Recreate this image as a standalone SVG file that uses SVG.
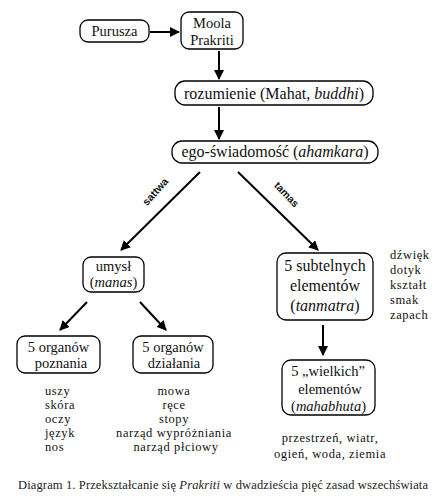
<svg xmlns="http://www.w3.org/2000/svg" width="440" height="500" viewBox="0 0 440 500">
<style>
.box{fill:#fff;stroke:#000;stroke-width:1.3}
.t{font-family:"Liberation Serif","DejaVu Serif",serif;font-size:16px;fill:#111;text-anchor:middle}
.t2{font-family:"Liberation Serif","DejaVu Serif",serif;font-size:14.5px;fill:#111;text-anchor:middle}
.s{font-family:"Liberation Serif","DejaVu Serif",serif;font-size:12.5px;letter-spacing:0.6px;fill:#111}
.lab{font-family:"Liberation Sans",Arial,sans-serif;font-size:10.5px;font-weight:bold;fill:#111;text-anchor:middle}
.cap{font-family:"Liberation Serif","DejaVu Serif",serif;font-size:12.5px;fill:#222}
.c{stroke:#000;stroke-width:2;fill:none;marker-end:url(#ah)}
</style>
<defs>
<marker id="ah" viewBox="0 0 10 10" refX="9" refY="5" markerWidth="5" markerHeight="5" orient="auto" markerUnits="strokeWidth">
<path d="M0,0 L10,5 L0,10 z" fill="#000"/>
</marker>
</defs>
<rect width="440" height="500" fill="#fff"/>
<g id="connectors">
<line class="c" x1="150" y1="32" x2="179" y2="32"/>
<line class="c" x1="219" y1="51" x2="219" y2="79"/>
<line class="c" x1="219" y1="107" x2="219" y2="139"/>
<line class="c" x1="200" y1="172" x2="121" y2="250"/>
<line class="c" x1="238" y1="172" x2="318" y2="250"/>
<line class="c" x1="87" y1="302" x2="60" y2="330"/>
<line class="c" x1="140" y1="302" x2="166" y2="330"/>
<line class="c" x1="323" y1="325" x2="323" y2="355"/>
<text class="lab" transform="translate(158,194) rotate(-48)">sattwa</text>
<text class="lab" transform="translate(284,197) rotate(46)">tamas</text>
</g>
<g id="purusza">
<rect class="box" x="80" y="20" width="69" height="22" rx="8"/>
<text class="t2" x="114.5" y="36" font-size="15.5">Purusza</text>
</g>
<g id="moola">
<rect class="box" x="181" y="12" width="62" height="37" rx="8"/>
<text class="t2" x="212" y="28">Moola</text>
<text class="t2" x="212" y="45">Prakriti</text>
</g>
<g id="rozumienie">
<rect class="box" x="175" y="81" width="198" height="24" rx="10"/>
<text class="t" x="274" y="99">rozumienie (Mahat, <tspan font-style="italic">buddhi</tspan>)</text>
</g>
<g id="ego">
<rect class="box" x="172" y="141" width="206" height="22" rx="10"/>
<text class="t" x="275" y="157">ego-świadomość (<tspan font-style="italic">ahamkara</tspan>)</text>
</g>
<g id="umysl">
<rect class="box" x="83" y="257" width="61" height="35" rx="8"/>
<text class="t2" x="113.5" y="271">umysł</text>
<text class="t2" x="113.5" y="287">(<tspan font-style="italic">manas</tspan>)</text>
</g>
<g id="poznania">
<rect class="box" x="17" y="336" width="83" height="37" rx="8"/>
<text class="t2" x="58.5" y="352">5 organów</text>
<text class="t2" x="61" y="368">poznania</text>
<text class="s" x="45" y="395">uszy</text>
<text class="s" x="45" y="409">skóra</text>
<text class="s" x="45" y="423">oczy</text>
<text class="s" x="45" y="437">język</text>
<text class="s" x="45" y="451">nos</text>
</g>
<g id="dzialania">
<rect class="box" x="133" y="336" width="80" height="37" rx="8"/>
<text class="t2" x="173" y="352">5 organów</text>
<text class="t2" x="174" y="368">działania</text>
<g class="s" text-anchor="middle">
<text x="174" y="395">mowa</text>
<text x="174" y="409">ręce</text>
<text x="174" y="423">stopy</text>
<text x="174" y="437">narząd wypróżniania</text>
<text x="176" y="451">narząd płciowy</text>
</g>
</g>
<g id="subtelne">
<rect class="box" x="277" y="253" width="96" height="67" rx="9"/>
<text class="t" x="325" y="271">5 subtelnych</text>
<text class="t" x="325" y="291">elementów</text>
<text class="t" x="325" y="311">(<tspan font-style="italic">tanmatra</tspan>)</text>
<g class="s">
<text x="390" y="259">dźwięk</text>
<text x="390" y="274">dotyk</text>
<text x="390" y="289">kształt</text>
<text x="390" y="304">smak</text>
<text x="390" y="319">zapach</text>
</g>
</g>
<g id="wielkie">
<rect class="box" x="282" y="360" width="93" height="55" rx="9"/>
<text class="t2" x="328" y="376" font-size="15.5">5 „wielkich”</text>
<text class="t2" x="330" y="394" font-size="15.5">elementów</text>
<text class="t2" x="328.5" y="411" font-size="15.5">(<tspan font-style="italic">mahabhuta</tspan>)</text>
<g class="s" text-anchor="middle">
<text x="330" y="442">przestrzeń, wiatr,</text>
<text x="330" y="458">ogień, woda, ziemia</text>
</g>
</g>
<text class="cap" x="18" y="489" textLength="410" lengthAdjust="spacing">Diagram 1. Przekształcanie się <tspan font-style="italic">Prakriti</tspan> w dwadzieścia pięć zasad wszechświata</text>
</svg>
